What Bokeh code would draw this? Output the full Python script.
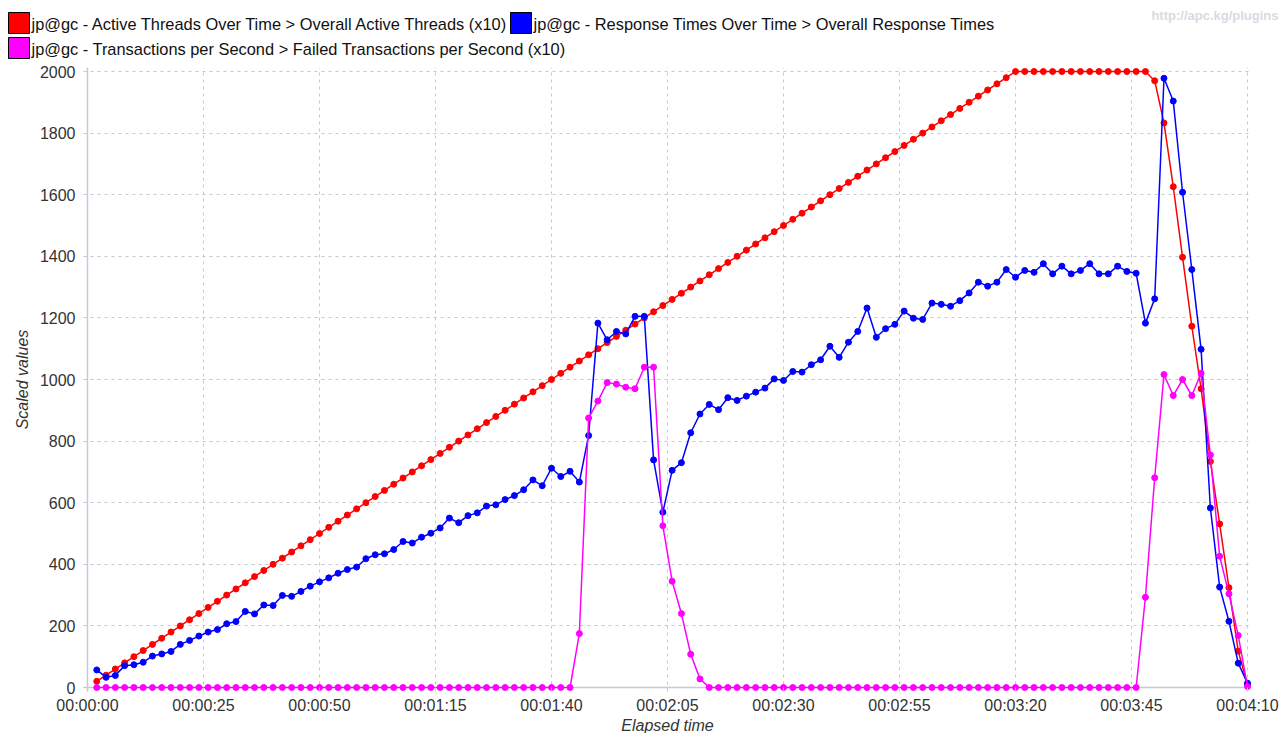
from bokeh.plotting import figure
from bokeh.models import Range1d, FixedTicker, Span, ColumnDataSource
from bokeh.layouts import column
from bokeh.core.properties import value
from bokeh.embed import file_html
from bokeh.resources import INLINE

# ---------------------------------------------------------------- data
# elapsed time of each sample, in seconds
elapsed_s = [
    2, 4, 6, 8, 10, 12, 14, 16, 18, 20, 22, 24, 26, 28, 30, 32, 34, 36, 38, 40, 42, 44, 46, 48, 50,
    52, 54, 56, 58, 60, 62, 64, 66, 68, 70, 72, 74, 76, 78, 80, 82, 84, 86, 88, 90, 92, 94, 96, 98, 100,
    102, 104, 106, 108, 110, 112, 114, 116, 118, 120, 122, 124, 126, 128, 130, 132, 134, 136, 138, 140,
    142, 144, 146, 148, 150, 152, 154, 156, 158, 160, 162, 164, 166, 168, 170, 172, 174, 176, 178, 180,
    182, 184, 186, 188, 190, 192, 194, 196, 198, 200, 202, 204, 206, 208, 210, 212, 214, 216, 218, 220,
    222, 224, 226, 228, 230, 232, 234, 236, 238, 240, 242, 244, 246, 248, 250,
]

# Overall Active Threads (x10)
active_threads_x10 = [
    20, 40, 60, 80, 100, 120, 140, 160, 180, 200, 220, 240, 260, 280, 300, 320, 340, 360, 380, 400,
    420, 440, 460, 480, 500, 520, 540, 560, 580, 600, 620, 640, 660, 680, 700, 720, 740, 760, 780, 800,
    820, 840, 860, 880, 900, 920, 940, 960, 980, 1000, 1020, 1040, 1060, 1080, 1100, 1120, 1140, 1160,
    1180, 1200, 1220, 1240, 1260, 1280, 1300, 1320, 1340, 1360, 1380, 1400, 1420, 1440, 1460, 1480,
    1500, 1520, 1540, 1560, 1580, 1600, 1620, 1640, 1660, 1680, 1700, 1720, 1740, 1760, 1780, 1800,
    1820, 1840, 1860, 1880, 1900, 1920, 1940, 1960, 1980, 2000,
    2000, 2000, 2000, 2000, 2000, 2000, 2000, 2000, 2000, 2000, 2000, 2000, 2000, 2000,
    1970, 1833, 1626, 1397, 1173, 970, 734, 531, 324, 118, 9,
]

# Overall Response Times
response_times = [
    57, 33, 39, 71, 74, 82, 102, 109, 117, 140, 153, 167, 180, 188, 207, 214, 247, 239, 268, 266,
    299, 296, 312, 329, 343,
    356, 371, 383, 391, 418, 431, 434, 448, 474, 469, 488, 501, 518, 550, 535, 558, 567, 589, 593,
    610, 623, 642, 674, 655, 712,
    685, 702, 667, 818, 1183, 1129, 1156, 1148, 1205, 1205, 739, 569, 705, 730, 827, 888, 919,
    902, 941, 932, 946, 959, 972, 1002, 997, 1026, 1024, 1048, 1064, 1108, 1072, 1121, 1156, 1232,
    1137, 1165, 1179, 1222, 1199, 1195, 1248, 1244, 1238, 1256, 1281, 1316, 1303, 1316,
    1357, 1332, 1354, 1348, 1376, 1343, 1368, 1343, 1354, 1376, 1343, 1343, 1368, 1351, 1345, 1183, 1262,
    1978, 1904, 1608, 1357, 1098, 583, 326, 215, 79, 14,
]

# Failed Transactions per Second (x10)
failed_tps_x10 = [
    0, 0, 0, 0, 0, 0, 0, 0, 0, 0, 0, 0, 0, 0, 0, 0, 0, 0, 0, 0, 0, 0, 0, 0, 0, 0,
    0, 0, 0, 0, 0, 0, 0, 0, 0, 0, 0, 0, 0, 0, 0, 0, 0, 0, 0, 0, 0, 0, 0, 0, 0, 0,
    175, 875, 930, 990, 985, 975, 970, 1040, 1040, 525, 345, 240, 108, 28,
    0, 0, 0, 0, 0, 0, 0, 0, 0, 0, 0, 0, 0, 0, 0, 0, 0, 0, 0, 0, 0, 0, 0, 0,
    0, 0, 0, 0, 0, 0, 0, 0, 0, 0, 0, 0, 0, 0, 0, 0, 0, 0, 0, 0, 0, 0, 0,
    293, 681, 1016, 948, 1000, 948, 1020, 755, 426, 304, 169, 3,
]

series_labels = [
    "jp@gc - Active Threads Over Time > Overall Active Threads (x10)",
    "jp@gc - Response Times Over Time > Overall Response Times",
    "jp@gc - Transactions per Second > Failed Transactions per Second (x10)",
]
series_colors = ["#ff0000", "#0000ff", "#ff00ff"]

x_tick_values = [0, 25, 50, 75, 100, 125, 150, 175, 200, 225, 250]
x_tick_labels = ["00:00:00", "00:00:25", "00:00:50", "00:01:15", "00:01:40", "00:02:05",
                 "00:02:30", "00:02:55", "00:03:20", "00:03:45", "00:04:10"]
y_tick_values = [0, 200, 400, 600, 800, 1000, 1200, 1400, 1600, 1800, 2000]

x_title = "Elapsed time"
y_title = "Scaled values"
watermark = "http://apc.kg/plugins"

for s in (active_threads_x10, response_times, failed_tps_x10):
    assert len(s) == len(elapsed_s)

# ---------------------------------------------------------------- layout constants
FONT = "Liberation Sans"
FS = "16px"
LEGEND_FS = "16.4px"
W, H = 1283, 733
HEAD_H = 61                     # legend strip
FOOT_H = 16                     # strip holding the x-axis title
MAIN_H = H - HEAD_H - FOOT_H
X_MAX, Y_MAX = 250, 2000
AX_LEFT, AX_BOTTOM = 87, 687    # page pixel of the x=0 / y=0 axis lines
PLOT_W, PLOT_H = 1160, 616      # pixel extent of the 0..max data area
PAD = 4                         # room so markers on the edges are not cut
AXIS_COLOR = "#c5cad6"
GRID_COLOR = "#c3c8d4"
TEXT_COLOR = "#333333"

FRAME_L = AX_LEFT - PAD
FRAME_R = AX_LEFT + PLOT_W + PAD
FRAME_T = AX_BOTTOM - PLOT_H - PAD - HEAD_H      # inside the main figure
FRAME_B = AX_BOTTOM + PAD - HEAD_H


def strip(height):
    """A bare figure whose data units are its own pixels (y grows downward)."""
    f = figure(width=W, height=height, x_range=Range1d(0, W), y_range=Range1d(height, 0),
               x_axis_location=None, y_axis_location=None, toolbar_location=None,
               output_backend="svg", min_border=0, outline_line_color=None,
               background_fill_color="white", border_fill_color="white")
    f.frame_align = False
    f.grid.visible = False
    return f


# ---------------------------------------------------------------- legend strip
head = strip(HEAD_H)
SW = 21
slots = [(8, 12), (510, 12), (8, 37)]     # swatch left / top per entry
sw_l = [sx for sx, _ in slots]
sw_t = [sy for _, sy in slots]
head.quad(left=sw_l, right=[l + SW for l in sw_l], top=sw_t, bottom=[t + SW for t in sw_t],
          fill_color=series_colors, line_color="#000000", line_width=1)
head.text(x=[l + SW + 2 for l in sw_l], y=[t + SW / 2 + 1 for t in sw_t], text=series_labels,
          text_font=value(FONT), text_font_size=LEGEND_FS, text_baseline="middle",
          text_align="left", text_color="#111111")
head.text(x=[W - 5], y=[15], text=[watermark], text_font=value(FONT), text_font_size="13px",
          text_font_style="bold", text_baseline="middle", text_align="right",
          text_color="#d9dae3")

# ---------------------------------------------------------------- main chart
xpad = PAD * X_MAX / PLOT_W
ypad = PAD * Y_MAX / PLOT_H
p = figure(width=W, height=MAIN_H,
           x_range=Range1d(-xpad, X_MAX + xpad), y_range=Range1d(-ypad, Y_MAX + ypad),
           toolbar_location=None, output_backend="svg",
           min_border_left=FRAME_L, min_border_right=W - FRAME_R,
           min_border_top=FRAME_T, min_border_bottom=MAIN_H - FRAME_B,
           outline_line_color=None, background_fill_color="white", border_fill_color="white")
p.frame_align = False

xt = FixedTicker(ticks=x_tick_values)
yt = FixedTicker(ticks=y_tick_values)
p.xaxis.ticker = xt
p.xgrid.ticker = xt
p.yaxis.ticker = yt
p.ygrid.ticker = yt
p.xaxis.major_label_overrides = dict(zip(x_tick_values, x_tick_labels))

for ax in (p.xaxis, p.yaxis):
    ax.axis_line_color = None
    ax.major_tick_in = PAD
    ax.major_tick_out = 0
    ax.major_tick_line_color = AXIS_COLOR
    ax.minor_tick_line_color = None
    ax.major_label_text_font = FONT
    ax.major_label_text_font_size = FS
    ax.major_label_text_color = TEXT_COLOR
    ax.axis_label_text_font = FONT
    ax.axis_label_text_font_size = FS
    ax.axis_label_text_font_style = "italic"
    ax.axis_label_text_color = TEXT_COLOR

p.yaxis.axis_label = y_title
p.xaxis.major_label_standoff = 5
p.yaxis.major_label_standoff = 8
p.yaxis.axis_label_standoff = 6

for g in (p.xgrid, p.ygrid):
    g.grid_line_color = GRID_COLOR
    g.grid_line_dash = "3 4"
    g.grid_line_width = 1

p.add_layout(Span(location=0, dimension="width", line_color=AXIS_COLOR, line_width=1.5, level="underlay"))
p.add_layout(Span(location=0, dimension="height", line_color=AXIS_COLOR, line_width=1.5, level="underlay"))

src = ColumnDataSource(dict(t=elapsed_s, threads=active_threads_x10,
                            resp=response_times, failed=failed_tps_x10))
for col, color in zip(["threads", "resp", "failed"], series_colors):
    p.line("t", col, source=src, line_color=color, line_width=1.5)
    p.scatter("t", col, source=src, size=6, fill_color=color, line_color=color)

# ---------------------------------------------------------------- x-axis title strip
foot = strip(FOOT_H)
foot.text(x=[AX_LEFT + PLOT_W / 2], y=[8], text=[x_title], text_font=value(FONT),
          text_font_size=FS, text_font_style="italic", text_baseline="middle",
          text_align="center", text_color=TEXT_COLOR)

layout = column(head, p, foot, spacing=0)
open("out.html", "w").write(file_html(layout, INLINE))
